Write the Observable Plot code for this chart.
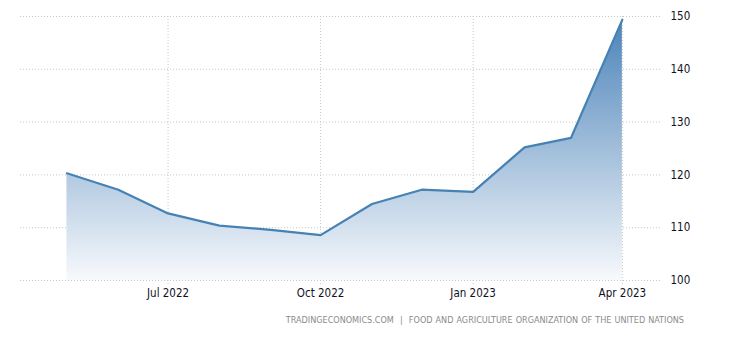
<!DOCTYPE html>
<html>
<head>
<meta charset="utf-8">
<script src="https://cdn.jsdelivr.net/npm/d3@7"></script>
<script src="https://cdn.jsdelivr.net/npm/@observablehq/plot@0.6"></script>
<style>
  html, body { margin: 0; padding: 0; background: #fff; }
  #wrap { position: relative; width: 740px; height: 350px; }
  #caption {
    position: absolute; right: 56px; top: 315px;
    font-family: "DejaVu Sans Condensed", "DejaVu Sans", sans-serif;
    font-size: 9px; letter-spacing: 0px; word-spacing: 0.5px; color: #8a8a8a;
    white-space: pre;
  }
</style>
</head>
<body>
<div id="wrap"><div id="chart"></div><div id="caption">TRADINGECONOMICS.COM  |  FOOD AND AGRICULTURE ORGANIZATION OF THE UNITED NATIONS</div></div>
<script>
const months = ["2022-05-01","2022-06-01","2022-07-01","2022-08-01","2022-09-01","2022-10-01",
                "2022-11-01","2022-12-01","2023-01-01","2023-02-01","2023-03-01","2023-04-01"];
const values = [120.3, 117.2, 112.7, 110.4, 109.6, 108.6, 114.5, 117.2, 116.8, 125.2, 127.0, 149.4];
const xTicks = ["2022-07-01","2022-10-01","2023-01-01","2023-04-01"];
const yTicks = [100, 110, 120, 130, 140, 150];
const xDomain = ["2022-04-03","2023-04-24"];
const yDomain = [100, 150];

const data = months.map((m, i) => ({date: new Date(m), value: values[i]}));
const fontFam = '"DejaVu Sans Condensed", "DejaVu Sans", sans-serif';

const chart = Plot.plot({
  width: 740,
  height: 305,
  marginTop: 16,
  marginBottom: 25,
  marginLeft: 20,
  marginRight: 80,
  style: {fontFamily: fontFam, fontSize: "11.5px", color: "#111122", background: "#fff"},
  x: {type: "utc", domain: xDomain.map(d => new Date(d)), label: null},
  y: {domain: yDomain, label: null},
  marks: [
    Plot.gridY(yTicks, {stroke: "#c8c8c8", strokeOpacity: 1, strokeDasharray: "1,2"}),
    Plot.gridX(xTicks.map(d => new Date(d)), {stroke: "#c8c8c8", strokeOpacity: 1, strokeDasharray: "1,2"}),
    Plot.areaY(data, {x: "date", y1: yDomain[0], y2: "value", fill: "url(#areaGrad)"}),
    Plot.lineY(data, {x: "date", y: "value", stroke: "#4682b4", strokeWidth: 2.2, strokeLinejoin: "round"}),
    Plot.axisX(xTicks.map(d => new Date(d)), {
      tickFormat: d => d3.utcFormat("%b %Y")(d), tickSize: 5, tickPadding: 3,
      stroke: "#c8c8c8", strokeDasharray: "1,2", fill: "#111122"
    }),
    Plot.axisY(yTicks, {anchor: "right", tickSize: 0, tickPadding: 10, textAnchor: "start", fill: "#111122"})
  ]
});

const ys = chart.scale("y");
const ns = "http://www.w3.org/2000/svg";
const defs = document.createElementNS(ns, "defs");
const grad = document.createElementNS(ns, "linearGradient");
grad.setAttribute("id", "areaGrad");
grad.setAttribute("gradientUnits", "userSpaceOnUse");
grad.setAttribute("x1", "0"); grad.setAttribute("x2", "0");
grad.setAttribute("y1", ys.apply(yDomain[1]));
grad.setAttribute("y2", ys.apply(yDomain[0]));
[["0", "#4a82b8"], ["1", "#f7f9fc"]].forEach(([o, c]) => {
  const s = document.createElementNS(ns, "stop");
  s.setAttribute("offset", o); s.setAttribute("stop-color", c);
  grad.appendChild(s);
});
defs.appendChild(grad);
chart.insertBefore(defs, chart.firstChild);
document.getElementById("chart").appendChild(chart);
</script>
</body>
</html>
